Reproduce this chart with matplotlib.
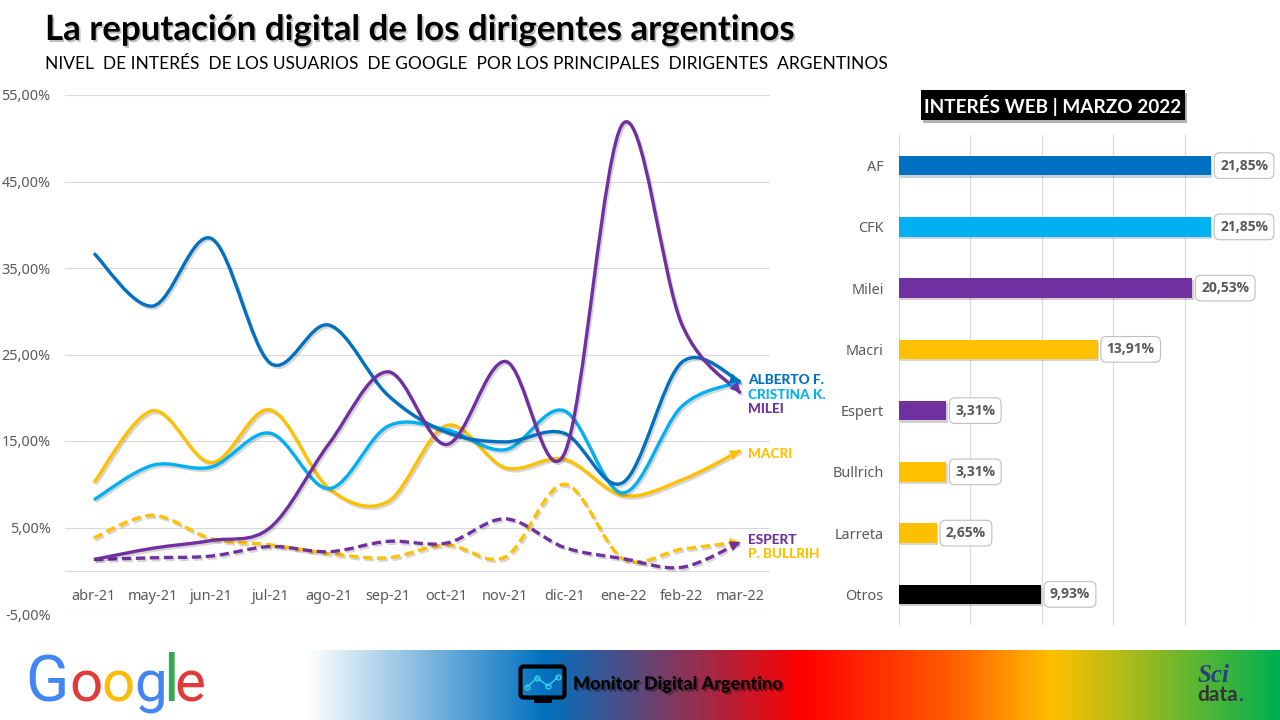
import matplotlib
matplotlib.use('Agg')
import matplotlib.pyplot as plt
import matplotlib.patheffects as pe
from matplotlib.colors import LinearSegmentedColormap
from matplotlib.patches import FancyBboxPatch, PathPatch, Rectangle
from matplotlib.path import Path
from matplotlib.ticker import FuncFormatter
import numpy as np

W, H = 1280, 720

meses = ['abr-21', 'may-21', 'jun-21', 'jul-21', 'ago-21', 'sep-21',
         'oct-21', 'nov-21', 'dic-21', 'ene-22', 'feb-22', 'mar-22']

alberto = [36.7, 30.6, 38.4, 24.0, 28.4, 20.3, 16.0, 14.9, 15.9, 10.2, 24.1, 21.85]
cristina = [8.2, 12.2, 12.0, 15.9, 9.5, 16.7, 16.3, 14.0, 18.5, 9.0, 19.0, 21.85]
milei = [1.3, 2.6, 3.5, 5.0, 14.7, 23.0, 14.6, 24.2, 13.5, 51.7, 28.5, 20.53]
macri = [10.2, 18.5, 12.5, 18.6, 9.5, 8.0, 16.8, 11.9, 12.9, 8.7, 10.5, 13.91]
espert = [1.3, 1.5, 1.7, 2.8, 2.2, 3.4, 3.2, 6.0, 2.7, 1.4, 0.4, 3.31]
bullrich = [3.8, 6.4, 3.7, 3.0, 2.0, 1.5, 3.0, 1.6, 10.0, 1.4, 2.5, 3.31]

y_ticks = [-5, 5, 15, 25, 35, 45, 55]

nombres = ['AF', 'CFK', 'Milei', 'Macri', 'Espert', 'Bullrich', 'Larreta', 'Otros']
interes = [21.85, 21.85, 20.53, 13.91, 3.31, 3.31, 2.65, 9.93]

AZUL = '#0070C0'
CELESTE = '#00B0F0'
VIOLETA = '#7030A0'
AMARILLO = '#FFC000'
colores_barras = [AZUL, CELESTE, VIOLETA, AMARILLO, VIOLETA, AMARILLO, AMARILLO, 'black']


def box(px_left, px_top, px_right, px_bottom):
    # pasa un rectangulo en pixeles a coordenadas de figura
    return [px_left / W, 1 - px_bottom / H, (px_right - px_left) / W, (px_bottom - px_top) / H]


def coma(v):
    return f'{v:.2f}'.replace('.', ',') + '%'


def curva(valores):
    # linea suavizada tipo Excel, pasa por cada valor
    y = np.array(valores, dtype=float)
    x = np.arange(len(y), dtype=float)
    p = np.column_stack([x, y])
    ext = np.vstack([p[0], p, p[-1]])
    verts = [p[0]]
    codes = [Path.MOVETO]
    for i in range(len(p) - 1):
        c1 = p[i] + (ext[i + 2] - ext[i]) / 6
        c2 = p[i + 1] - (ext[i + 3] - ext[i + 1]) / 6
        verts += [c1, c2, p[i + 1]]
        codes += [Path.CURVE4] * 3
    return Path(verts, codes), p[-1] - c2


sombra = [pe.SimpleLineShadow(offset=(1.2, -1.5), shadow_color='black', alpha=0.16), pe.Normal()]

fig = plt.figure(figsize=(12.8, 7.2), dpi=100, facecolor='white')

# capa de fondo en pixeles para titulos y pie
ov = fig.add_axes([0, 0, 1, 1], zorder=0)
ov.set_xlim(0, W)
ov.set_ylim(H, 0)
ov.axis('off')

ov.text(45, 30, 'La reputación digital de los dirigentes argentinos', family='Lato', weight='bold',
        fontsize=25.1, color='black', va='center',
        path_effects=[pe.withSimplePatchShadow(offset=(1.2, -1.5), shadow_rgbFace='black', alpha=0.25)])
ov.text(45, 64, 'NIVEL  DE INTERÉS  DE LOS USUARIOS  DE GOOGLE  POR LOS PRINCIPALES  DIRIGENTES  ARGENTINOS',
        family='Lato', fontsize=12.48, color='black', va='center')

# pie con degradado
cmap = LinearSegmentedColormap.from_list('pie', [
    (0.0, 'white'), (0.245, AZUL), (0.51, '#FF0000'), (0.66, '#FF5A00'),
    (0.77, '#FFC000'), (1.0, '#00B050')])
ov.imshow(np.linspace(0, 1, 600).reshape(1, -1), extent=(305, W, H, 650), cmap=cmap, aspect='auto', zorder=1)
ov.set_xlim(0, W)
ov.set_ylim(H, 0)

letras = ['G', 'o', 'o', 'g', 'l', 'e']
col_google = ['#4285F4', '#E03A3A', '#FBBC05', '#4285F4', '#34A853', '#E03A3A']
pos_google = [47, 85.5, 117.5, 150.5, 170.5, 189.5]
tam_google = [46, 42, 42, 42, 46, 42]
for l, c, x, s in zip(letras, col_google, pos_google, tam_google):
    ov.text(x, 701, l, family='Roboto', fontsize=s, color=c, va='baseline', ha='center', zorder=2)

# icono del monitor
ov.add_patch(Rectangle((534, 697), 18, 6, fc='black', ec='none', zorder=2))
ov.add_patch(FancyBboxPatch((522, 668), 41, 28, boxstyle='round,pad=1.5,rounding_size=3', fc='none', ec='black', lw=3, zorder=2))
ov.plot([527, 537, 548, 558], [687, 678, 686, 677], color='#35D0E8', lw=1, marker='o', ms=3.5, mfc='none', zorder=3)
ov.text(573, 684, 'Monitor Digital Argentino', family='Lato', weight='black', fontsize=13, color='black', va='center', zorder=3,
        path_effects=[pe.withSimplePatchShadow(offset=(1.5, -1.5), shadow_rgbFace='black', alpha=0.35)])
ov.text(1198, 676, 'Sci', family='Liberation Serif', style='italic', weight='bold', fontsize=18, color='#2A3F80', va='center', zorder=3)
ov.text(1197, 695, 'data', family='Lato', weight='bold', fontsize=15, color='#333333', va='center', zorder=3)
ov.text(1238, 695, '.', family='Lato', weight='bold', fontsize=15, color='#2A3F80', va='center', zorder=3)

# recuadro del titulo de barras
ov.add_patch(Rectangle((921, 90), 264, 30, fc='black', ec='none', zorder=2,
                       path_effects=[pe.withSimplePatchShadow(offset=(1.5, -2), alpha=0.3)]))
ov.text(1053, 105.5, 'INTERÉS WEB | MARZO 2022', family='Lato', weight='bold', fontsize=13.7, color='white',
        ha='center', va='center', zorder=3)

# grafico de lineas
ax = fig.add_axes(box(64.5, 95, 770, 614), zorder=2)
ax.patch.set_alpha(0)
ax.set_xlim(-0.5, 11.5)
ax.set_ylim(-5, 55)
ax.set_yticks(y_ticks)
ax.yaxis.set_major_formatter(FuncFormatter(lambda v, _: coma(v)))
ax.set_xticks(range(len(meses)))
ax.set_xticklabels(meses)
ax.tick_params(axis='x', length=0, pad=-18, labelsize=10.4, labelcolor='#595959')
ax.tick_params(axis='y', length=0, pad=10, labelsize=10.4, labelcolor='#595959')
for t in ax.get_xticklabels() + ax.get_yticklabels():
    t.set_family('Noto Sans')
ax.grid(axis='y', color='#D9D9D9', lw=0.8)
ax.axhline(0, color='#D9D9D9', lw=0.8, zorder=1)
ax.set_axisbelow(True)
for s in ax.spines.values():
    s.set_visible(False)

series = [(bullrich, AMARILLO, (0, (2.8, 1.4))), (espert, VIOLETA, (0, (2.8, 1.4))),
          (macri, AMARILLO, '-'), (cristina, CELESTE, '-'), (alberto, AZUL, '-'), (milei, VIOLETA, '-')]
for valores, color, ls in series:
    path, tang = curva(valores)
    ax.add_patch(PathPatch(path, fc='none', ec=color, lw=2.4, ls=ls, capstyle='butt', path_effects=sombra, zorder=3))
    fin = (len(valores) - 1, valores[-1])
    ax.annotate('', xy=fin, xytext=(fin[0] - tang[0] * 0.5, fin[1] - tang[1] * 0.5),
                arrowprops=dict(arrowstyle='-|>,head_length=0.7,head_width=0.35', color=color, lw=0,
                                shrinkA=0, shrinkB=0, mutation_scale=11),
                zorder=4)

etiquetas = [('ALBERTO F.', 380, AZUL), ('CRISTINA K.', 395, CELESTE), ('MILEI', 409, VIOLETA),
             ('MACRI', 454, AMARILLO), ('ESPERT', 540, VIOLETA), ('P. BULLRIH', 554, AMARILLO)]
for texto, py, color in etiquetas:
    ov.text(748, py, texto, family='Lato', weight='black', fontsize=9.8, color=color, va='center', zorder=3)

# grafico de barras
bx = fig.add_axes(box(899, 135, 1256, 625), zorder=2)
bx.patch.set_alpha(0)
pos = np.arange(len(nombres))
bx.barh(pos, interes, height=0.32, color=colores_barras, zorder=3,
        path_effects=[pe.withSimplePatchShadow(offset=(1, -1.5), alpha=0.2)])
bx.set_xlim(0, 25)
bx.set_ylim(len(nombres) - 0.5, -0.5)
bx.set_yticks(pos)
bx.set_yticklabels(nombres)
bx.set_xticks(range(0, 26, 5))
bx.tick_params(axis='x', length=0, labelbottom=False)
bx.tick_params(axis='y', length=0, pad=11, labelsize=10.4, labelcolor='#595959')
for t in bx.get_yticklabels():
    t.set_family('Noto Sans')
bx.grid(axis='x', color='#D9D9D9', lw=0.8)
bx.set_axisbelow(True)
for s in bx.spines.values():
    s.set_visible(False)
for p, v in zip(pos, interes):
    bx.annotate(coma(v), xy=(v, p), xytext=(6.5, 0), textcoords='offset points', family='Open Sans', weight='bold',
                fontsize=10, color='#595959', va='center', ha='left', zorder=5, annotation_clip=False,
                bbox=dict(boxstyle='round,pad=0.42,rounding_size=0.4', fc='white', ec='#BFBFBF', lw=0.8))

fig.savefig('out.png', dpi=100, facecolor='white')
